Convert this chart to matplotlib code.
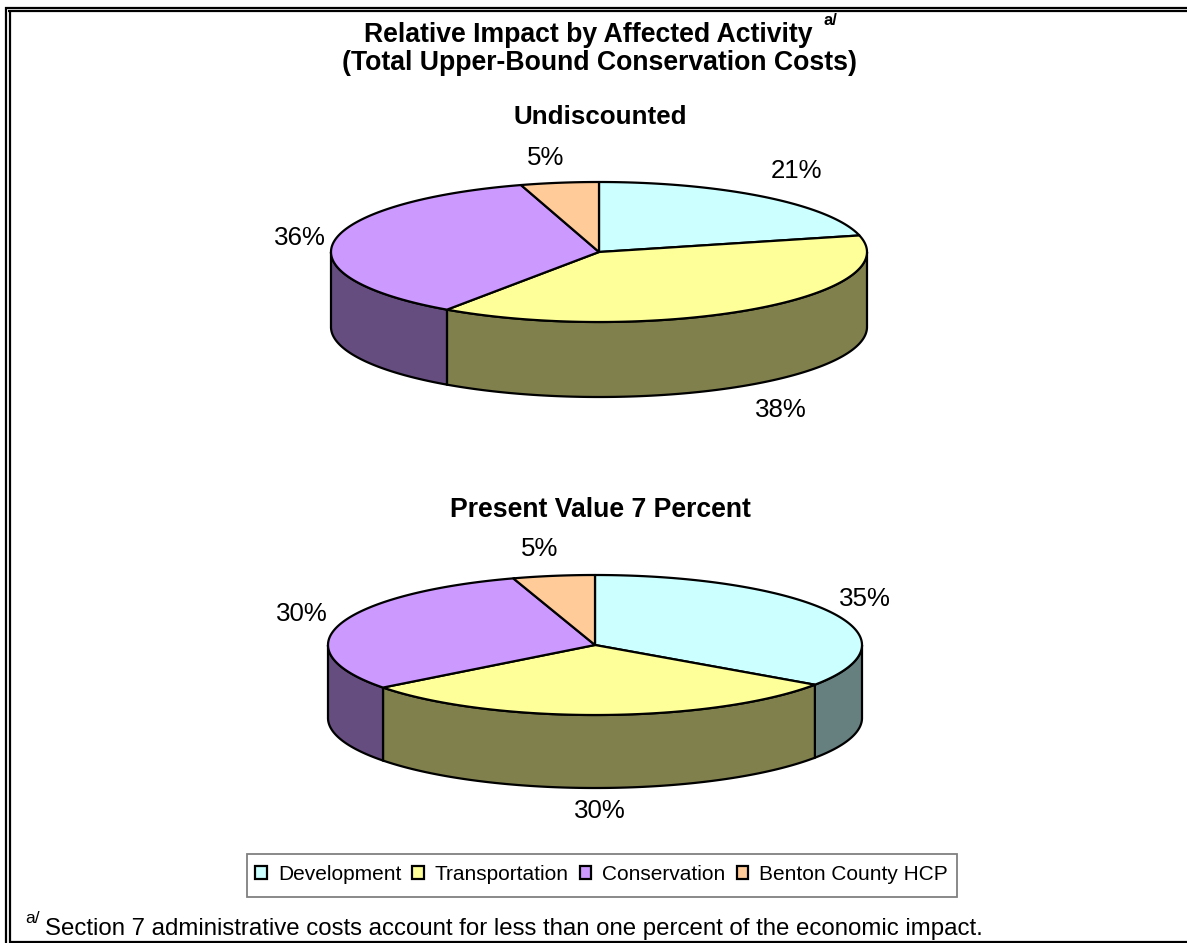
import numpy as np
import matplotlib
matplotlib.use('Agg')
import matplotlib.pyplot as plt
from matplotlib.patches import Polygon, Patch, Rectangle

plt.rcParams['font.family'] = ['Liberation Sans', 'DejaVu Sans']

categorias = ['Development', 'Transportation', 'Conservation', 'Benton County HCP']
colores = ['#CCFFFF', '#FFFF99', '#CC99FF', '#FFCC99']
colores_lado = ['#668080', '#80804D', '#664D80', '#806650']

undiscounted = [21.2, 38.4, 35.7, 4.7]
present_value = [34.6, 30.0, 30.45, 4.95]

W, H = 1187, 943
LW = 1.6


def elipse(cx, cy, rx, ry, t):
    return np.column_stack([cx + rx * np.sin(t), cy - ry * np.cos(t)])


def pie_3d(ax, valores, cx, cy, rx, ry, prof):
    fin = np.cumsum(valores) / 100 * 2 * np.pi
    inicio = np.concatenate([[0], fin[:-1]])

    # paredes: solo la mitad de adelante se ve
    for a, b, c in zip(inicio, fin, colores_lado):
        a2, b2 = max(a, np.pi / 2), min(b, 3 * np.pi / 2)
        if a2 >= b2:
            continue
        t = np.linspace(a2, b2, 200)
        arriba = elipse(cx, cy, rx, ry, t)
        abajo = arriba[::-1] + [0, prof]
        ax.add_patch(Polygon(np.vstack([arriba, abajo]), closed=True, fc=c, ec='black', lw=LW, zorder=2))

    # tapa
    for a, b, c in zip(inicio, fin, colores):
        t = np.linspace(a, b, 200)
        arco = elipse(cx, cy, rx, ry, t)
        ax.add_patch(Polygon(np.vstack([[cx, cy], arco]), closed=True, fc=c, ec='black', lw=LW,
                             joinstyle='round', zorder=3))


fig = plt.figure(figsize=(W / 100, H / 100), dpi=100)
ax = fig.add_axes([0, 0, 1, 1])
ax.set_xlim(0, W)
ax.set_ylim(H, 0)
ax.axis('off')

# marco doble, sin lado derecho
for y in [8, 11]:
    ax.plot([5 if y == 8 else 8, W], [y, y], color='black', lw=1.6, solid_capstyle='butt')
for x in [6, 9.5]:
    ax.plot([x, x], [7 if x == 6 else 10, H], color='black', lw=1.6, solid_capstyle='butt')
ax.plot([9, W], [942, 942], color='black', lw=1.6, solid_capstyle='butt')

ax.text(364, 42, 'Relative Impact by Affected Activity', ha='left', va='baseline', fontsize=19.2, fontweight='bold')
ax.text(823, 25, 'a/', ha='left', va='baseline', fontsize=12, fontweight='bold')
ax.text(600, 70, '(Total Upper-Bound Conservation Costs)', ha='center', va='baseline', fontsize=19.2, fontweight='bold')
ax.text(600, 124, 'Undiscounted', ha='center', va='baseline', fontsize=18.7, fontweight='bold')
ax.text(600, 517, 'Present Value 7 Percent', ha='center', va='baseline', fontsize=19.2, fontweight='bold')

pie_3d(ax, undiscounted, 599, 252, 268, 70, 75)
pie_3d(ax, present_value, 595, 645, 267, 70, 73)

pos_1 = [(796, 171), (781, 410), (300, 238), (546, 158)]
pos_2 = [(865, 599), (600, 811), (302, 614), (540, 549)]
for valores, posiciones in [(undiscounted, pos_1), (present_value, pos_2)]:
    for v, (x, y) in zip(valores, posiciones):
        ax.text(x, y, f'{v:.0f}%', ha='center', va='center', fontsize=18.6)

ax.add_patch(Rectangle((246.5, 853.5), 710, 43, fc='white', ec='#808080', lw=1.3, zorder=4))
handles = [Patch(fc=c, ec='black', lw=1.6) for c in colores]
leg = ax.legend(handles, categorias, ncol=4, loc='center', bbox_to_anchor=(601.5 / W, 1 - 874 / H),
                fontsize=15, frameon=False, handlelength=0.55, handleheight=0.6, handletextpad=0.53,
                columnspacing=0.53, borderpad=0, borderaxespad=0)
leg.set_zorder(5)

ax.text(25, 923, 'a/', ha='left', va='baseline', fontsize=12.5)
ax.text(45, 935, 'Section 7 administrative costs account for less than one percent of the economic impact.',
        ha='left', va='baseline', fontsize=17.25)

fig.savefig('out.png', dpi=100)
